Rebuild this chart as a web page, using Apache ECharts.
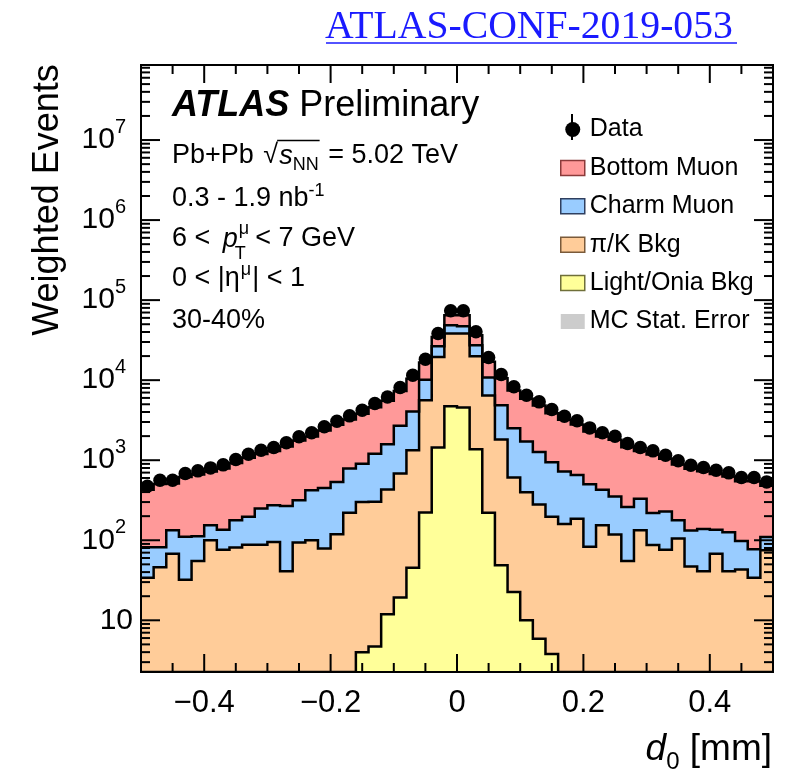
<!DOCTYPE html>
<html>
<head>
<meta charset="utf-8">
<script src="https://cdn.jsdelivr.net/npm/echarts@6.0.0/dist/echarts.min.js"></script>
<style>
html,body{margin:0;padding:0;background:#ffffff;}
#chart{width:785px;height:774px;}
</style>
</head>
<body>
<div id="chart"></div>
<script>
// ---------------- data ----------------
const binEdges = [-0.50,-0.48,-0.46,-0.44,-0.42,-0.40,-0.38,-0.36,-0.34,-0.32,
  -0.30,-0.28,-0.26,-0.24,-0.22,-0.20,-0.18,-0.16,-0.14,-0.12,
  -0.10,-0.08,-0.06,-0.04,-0.02,0.00,0.02,0.04,0.06,0.08,
  0.10,0.12,0.14,0.16,0.18,0.20,0.22,0.24,0.26,0.28,
  0.30,0.32,0.34,0.36,0.38,0.40,0.42,0.44,0.46,0.48,0.50];

const dataValues = [473,562,562,681,736,802,875,1019,1189,1334,
  1439,1648,1959,2198,2612,3073,3581,4217,5105,6166,
  8091,11550,18300,38280,73620,73620,40180,19190,11780,8260,
  6494,5358,4295,3548,3105,2535,2198,1995,1614,1439,
  1309,1155,982,866,809,750,695,607,607,536];

const lightOnia = [0,0,0,0,0,0,0,0,0,0,
  0,0,0,0,0,0,0,4.0,4.7,11.9,
  19.2,45.5,222,1439,4732,4550,1373,220,48.7,22.6,
  10.0,5.9,3.8,0,0,0,0,0,0,0,
  0,0,0,0,0,0,0,0,0,0];

const piK = [34,46,68,32,55,100,76,81,88,88,
  95,41,94,100,79,119,220,297,297,418,
  662,1289,5400,18060,33550,33730,18580,6237,1762,587,
  388,273,193,160,186,83,154,118,55,133,
  87,76,105,47,41,68,41,43,34,75];

const charm = [48,36,65,79,57,54,59,97,108,161,
  179,227,222,322,372,417,567,600,901,1155,
  2011,2740,4490,7110,10420,9040,7430,4333,3059,1902,
  1320,992,747,564,467,418,273,233,206,198,
  132,153,73,85,97,67,85,55,43,35];

const bottom = [347,422,377,505,553,571,654,742,874,951,
  1026,1211,1444,1558,1899,2234,2433,2898,3398,3965,
  4608,6326,6485,7990,15800,17180,9120,6210,5730,4938,
  4132,3549,2926,2476,2137,1779,1553,1449,1189,969,
  961,811,707,648,592,540,499,447,468,370];

const xMajorTicks = [-0.4,-0.2,0,0.2,0.4];
const xMinorTicks = [-0.45,-0.35,-0.3,-0.25,-0.15,-0.1,-0.05,0.05,0.1,0.15,0.25,0.3,0.35,0.45];
const yDecades = [1,10,100,1000,10000,100000,1000000,10000000];

// ---------------- axis ranges ----------------
const xMin = -0.5, xMax = 0.5;
const yMin = 2.26, yMax = 8.66e7;

// ---------------- derived ----------------
const N = dataValues.length;
const centers = binEdges.slice(0, N).map((e, i) => (e + binEdges[i + 1]) / 2);
const cum0 = new Array(N).fill(0);
const cumLight = lightOnia.map((v, i) => cum0[i] + v);
const cumPiK = piK.map((v, i) => cumLight[i] + v);
const cumCharm = charm.map((v, i) => cumPiK[i] + v);
const cumBottom = bottom.map((v, i) => cumCharm[i] + v);

const yMajorTicks = yDecades.filter(v => v >= yMin && v <= yMax);
const yMinorTicks = [];
yDecades.forEach(d => { for (let m = 2; m <= 9; m++) { const v = m * d; if (v > yMin && v < yMax) yMinorTicks.push(v); } });

const FONT = '"Liberation Sans", Arial, Helvetica, sans-serif';
const C_BOTTOM = '#FF9999', C_CHARM = '#99CCFF', C_PIK = '#FFCC99', C_LIGHT = '#FFFF99', C_ERR = '#CCCCCC';

function layerSeries(name, color, lower, upper) {
  return {
    type: 'custom', name: name, coordinateSystem: 'cartesian2d',
    data: [0], z: 2, clip: true, silent: true,
    itemStyle: { color: color },
    renderItem: function (params, api) {
      const top = [], bot = [];
      for (let i = 0; i < N; i++) {
        const u = Math.max(upper[i], yMin), l = Math.max(lower[i], yMin);
        top.push(api.coord([binEdges[i], u]), api.coord([binEdges[i + 1], u]));
        bot.push(api.coord([binEdges[i], l]), api.coord([binEdges[i + 1], l]));
      }
      const poly = top.concat(bot.slice().reverse());
      return {
        type: 'group', children: [
          { type: 'polygon', z2: 0, shape: { points: poly }, style: { fill: color, stroke: null } },
          { type: 'polyline', z2: 20, shape: { points: top }, style: { stroke: '#000', lineWidth: 2.5, fill: null, lineJoin: 'miter' } }
        ]
      };
    }
  };
}

const frameSeries = {
  type: 'custom', name: 'frame', coordinateSystem: 'cartesian2d', data: [0], z: 6, silent: true, clip: false,
  renderItem: function (params, api) {
    const cs = params.coordSys;
    const L = cs.x, R = cs.x + cs.width, T = cs.y, B = cs.y + cs.height;
    const ch = [];
    const ln = (x1, y1, x2, y2) => ch.push({ type: 'line', shape: { x1, y1, x2, y2 }, style: { stroke: '#000', lineWidth: 2 } });
    xMajorTicks.forEach(v => { const px = api.coord([v, yMax])[0]; ln(px, B, px, B - 18); ln(px, T, px, T + 18); });
    xMinorTicks.forEach(v => { const px = api.coord([v, yMax])[0]; ln(px, B, px, B - 9); ln(px, T, px, T + 9); });
    yMajorTicks.forEach(v => { const py = api.coord([xMin, v])[1]; ln(L, py, L + 19, py); ln(R, py, R - 19, py); });
    yMinorTicks.forEach(v => { const py = api.coord([xMin, v])[1]; ln(L, py, L + 9, py); ln(R, py, R - 9, py); });
    ch.push({ type: 'rect', shape: { x: L, y: T, width: cs.width, height: cs.height }, style: { fill: null, stroke: '#000', lineWidth: 2 } });
    return { type: 'group', children: ch };
  }
};

// ---------- text helpers ----------
const mctx = document.createElement('canvas').getContext('2d');
function tw(text, font) { mctx.font = font; return mctx.measureText(text).width; }
function f(size, style) { return (style ? style + ' ' : '') + size + 'px ' + FONT; }
const gfx = [];
function txt(text, x, y, font, extra) {
  gfx.push(Object.assign({ type: 'text', x: x, y: y, z: 20, silent: true,
    style: { text: text, font: font, fill: '#000', align: 'left', verticalAlign: 'middle' } }, extra || {}));
  return x + tw(text, font);
}

// Title link
gfx.push({ type: 'text', x: 325, y: 28, z: 20, silent: true,
  style: { text: 'ATLAS-CONF-2019-053', font: '39.7px "Liberation Serif", "Times New Roman", serif', fill: '#1a1aff', align: 'left', verticalAlign: 'middle' } });
gfx.push({ type: 'line', z: 20, silent: true, shape: { x1: 326, y1: 43, x2: 737, y2: 43 }, style: { stroke: '#1a1aff', lineWidth: 1.6 } });

// ATLAS Preliminary
let xx = txt('ATLAS', 172, 106, f(36, 'italic bold'));
txt(' Preliminary', xx, 106, f(36));

const TS = 27, SS = 18;
const LX = 172;
// line 1
xx = txt('Pb+Pb ', LX, 156, f(TS));
xx = txt('\u221A', xx + 2, 156, f(TS));
const ovStart = xx - 1;
xx = txt('s', xx + 1, 156, f(TS, 'italic'));
xx = txt('NN', xx, 165, f(SS));
gfx.push({ type: 'line', z: 20, silent: true, shape: { x1: ovStart, y1: 140.5, x2: xx + 1, y2: 140.5 }, style: { stroke: '#000', lineWidth: 1.3 } });
txt(' = 5.02 TeV', xx + 2, 156, f(TS));
// line 2
xx = txt('0.3 - 1.9 nb', LX, 199, f(TS));
txt('-1', xx, 191, f(SS));
// line 3
xx = txt('6 < ', LX, 239, f(TS));
xx = txt('p', xx + 5, 239, f(TS, 'italic'));
txt('\u03BC', xx + 1, 229, f(SS));
txt('T', xx - 3, 254, f(SS));
xx = txt(' < 7 GeV', xx + 10, 239, f(TS));
// line 4
xx = txt('0 < |\u03B7', LX, 279, f(TS));
xx = txt('\u03BC', xx + 1, 270, f(SS));
txt('| < 1', xx + 1, 279, f(TS));
// line 5
txt('30-40%', LX, 321, f(TS));

// y axis title
gfx.push({ type: 'text', x: 48, y: 200, rotation: Math.PI / 2, z: 20, silent: true,
  style: { text: 'Weighted Events', font: f(36), fill: '#000', align: 'center', verticalAlign: 'middle' } });
// x axis title (right aligned at plot edge)
{
  const FS = 37;
  const wD = tw('d', f(FS, 'italic')), w0 = tw('0', f(24)), wR = tw(' [mm]', f(FS));
  let sx = 772 - (wD + w0 + wR);
  sx = txt('d', sx, 750, f(FS, 'italic'));
  sx = txt('0', sx, 762, f(24));
  txt(' [mm]', sx, 750, f(FS));
}
// error bar of the Data legend marker
gfx.push({ type: 'line', z: 20, silent: true, shape: { x1: 572, y1: 114, x2: 572, y2: 140 }, style: { stroke: '#000', lineWidth: 2 } });

const chart = echarts.init(document.getElementById('chart'), null, { renderer: 'canvas' });
const option = {
  backgroundColor: '#ffffff',
  animation: false,
  grid: { left: 141, right: 12, top: 65, bottom: 102, show: false },
  xAxis: {
    type: 'value', min: xMin, max: xMax, interval: 0.1,
    axisLine: { show: false }, axisTick: { show: false }, splitLine: { show: false },
    axisLabel: {
      margin: 16, color: '#000', fontSize: 31, fontFamily: FONT,
      showMinLabel: false, showMaxLabel: false,
      formatter: function (v) {
        const k = Math.round(v * 10);
        if (Math.abs(k) % 2 !== 0 || Math.abs(k) > 4) return '';
        if (k === 0) return '0';
        return (k < 0 ? '\u2212' : '') + Math.abs(v).toFixed(1);
      }
    }
  },
  yAxis: {
    type: 'log', logBase: 10, min: yMin, max: yMax,
    axisLine: { show: false }, axisTick: { show: false }, splitLine: { show: false },
    axisLabel: {
      margin: 8, color: '#000', fontFamily: FONT,
      formatter: function (v) {
        const l = Math.log10(v), k = Math.round(l);
        if (Math.abs(l - k) > 1e-6 || k < 1) return '';
        if (k === 1) return '{b|10}';
        return '{b|10}{s|' + k + '}';
      },
      rich: {
        b: { fontSize: 30, lineHeight: 30, fontFamily: FONT, color: '#000', verticalAlign: 'bottom' },
        s: { fontSize: 20, lineHeight: 20, fontFamily: FONT, color: '#000', verticalAlign: 'bottom', padding: [0, 7, 18, 0] }
      }
    }
  },
  legend: {
    orient: 'vertical', left: 555, top: 112, itemWidth: 24, itemHeight: 15, itemGap: 13.4,
    selectedMode: false,
    textStyle: { fontSize: 25, fontFamily: FONT, color: '#000' },
    data: [
      { name: 'Data', icon: 'circle', itemStyle: { color: '#000', opacity: 1 } },
      { name: 'Bottom Muon', icon: 'rect', itemStyle: { color: C_BOTTOM, borderColor: '#8B3A3A', borderWidth: 1.5 } },
      { name: 'Charm Muon', icon: 'rect', itemStyle: { color: C_CHARM, borderColor: '#2F3F5F', borderWidth: 1.5 } },
      { name: '\u03C0/K Bkg', icon: 'rect', itemStyle: { color: C_PIK, borderColor: '#7A5A3A', borderWidth: 1.5 } },
      { name: 'Light/Onia Bkg', icon: 'rect', itemStyle: { color: C_LIGHT, borderColor: '#6F6F3A', borderWidth: 1.5 } },
      { name: 'MC Stat. Error', icon: 'rect', itemStyle: { color: C_ERR, borderWidth: 0 } }
    ]
  },
  series: [
    layerSeries('Light/Onia Bkg', C_LIGHT, cum0, cumLight),
    layerSeries('\u03C0/K Bkg', C_PIK, cumLight, cumPiK),
    layerSeries('Charm Muon', C_CHARM, cumPiK, cumCharm),
    layerSeries('Bottom Muon', C_BOTTOM, cumCharm, cumBottom),
    { type: 'custom', name: 'MC Stat. Error', coordinateSystem: 'cartesian2d', data: [], itemStyle: { color: C_ERR },
      renderItem: function () { return null; } },
    { type: 'scatter', name: 'Data', z: 4, symbol: 'circle', symbolSize: 13.5, silent: true,
      itemStyle: { color: '#000', opacity: 1 },
      data: centers.map((c, i) => [c, dataValues[i]]) },
    frameSeries
  ],
  graphic: { elements: gfx }
};
chart.setOption(option);
</script>
</body>
</html>
